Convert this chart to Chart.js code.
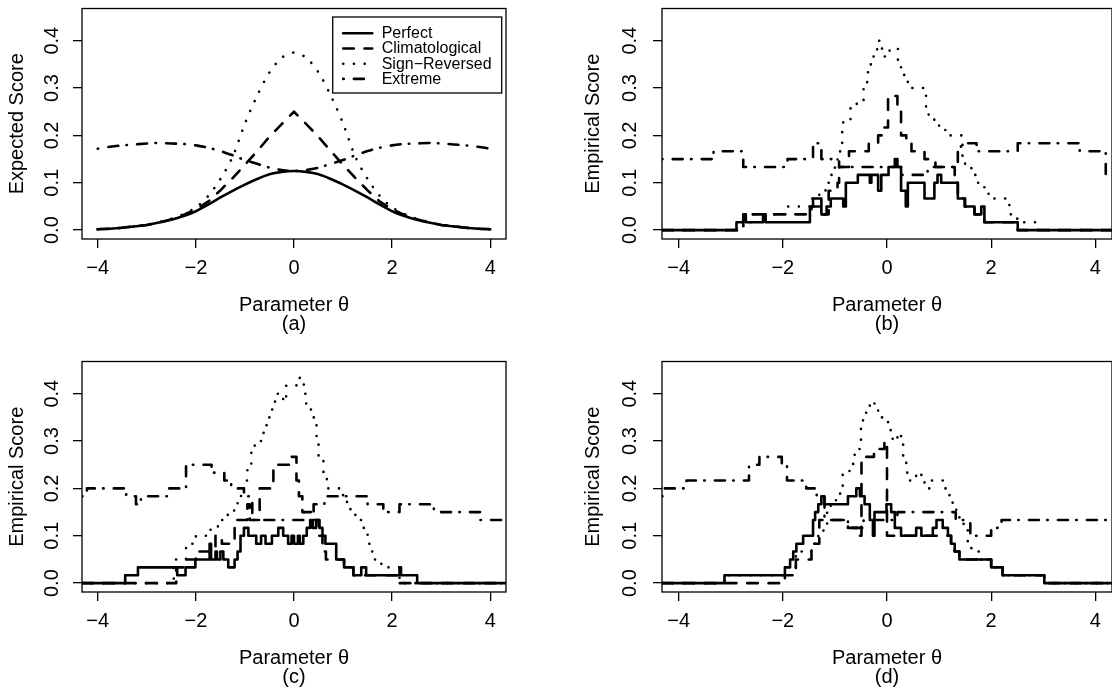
<!DOCTYPE html>
<html>
<head>
<meta charset="utf-8">
<script src="https://cdn.jsdelivr.net/npm/chart.js@4.4.1/dist/chart.umd.min.js"></script>
<style>
  html, body { margin: 0; padding: 0; background: #fff; width: 1112px; height: 689px; overflow: hidden; position: relative; }
  .panel { position: absolute; width: 574px; height: 353px; }
</style>
</head>
<body>
<div class="panel" style="left:0;top:0"><canvas id="panelA"></canvas></div>
<div class="panel" style="left:574px;top:0"><canvas id="panelB"></canvas></div>
<div class="panel" style="left:0;top:353px"><canvas id="panelC"></canvas></div>
<div class="panel" style="left:574px;top:353px"><canvas id="panelD"></canvas></div>
<script>
const seriesNames = ['Perfect', 'Climatological', 'Sign\u2212Reversed', 'Extreme'];
const xTicks = [-4, -2, 0, 2, 4];
const yTicks = [0, 0.1, 0.2, 0.3, 0.4];

// (a) expected score curves
const thetaA = [-4, -3.75, -3.5, -3.25, -3, -2.75, -2.5, -2.25, -2, -1.75, -1.5, -1.25, -1, -0.75, -0.5, -0.25, 0,
  0.25, 0.5, 0.75, 1, 1.25, 1.5, 1.75, 2, 2.25, 2.5, 2.75, 3, 3.25, 3.5, 3.75, 4];
const perfectA = [0.002, 0.003, 0.005, 0.008, 0.011, 0.016, 0.022, 0.030, 0.040, 0.054, 0.069, 0.083, 0.096, 0.108, 0.118, 0.123, 0.125,
  0.123, 0.118, 0.108, 0.096, 0.083, 0.069, 0.054, 0.040, 0.030, 0.022, 0.016, 0.011, 0.008, 0.005, 0.003, 0.002];
const climA = [0.002, 0.003, 0.005, 0.008, 0.011, 0.016, 0.023, 0.032, 0.044, 0.060, 0.084, 0.110, 0.138, 0.167, 0.197, 0.224, 0.250,
  0.224, 0.197, 0.167, 0.138, 0.110, 0.084, 0.060, 0.044, 0.032, 0.023, 0.016, 0.011, 0.008, 0.005, 0.003, 0.002];
const signA = [0.002, 0.003, 0.005, 0.008, 0.011, 0.017, 0.024, 0.034, 0.048, 0.072, 0.108, 0.155, 0.225, 0.284, 0.333, 0.364, 0.375,
  0.364, 0.333, 0.284, 0.225, 0.155, 0.108, 0.072, 0.048, 0.034, 0.024, 0.017, 0.011, 0.008, 0.005, 0.003, 0.002];
const extremeA = [0.172, 0.176, 0.179, 0.181, 0.183, 0.184, 0.183, 0.182, 0.179, 0.174, 0.167, 0.158, 0.148, 0.140, 0.132, 0.127, 0.125,
  0.127, 0.132, 0.140, 0.148, 0.158, 0.167, 0.174, 0.179, 0.182, 0.183, 0.184, 0.183, 0.181, 0.179, 0.176, 0.172];

// (b)-(d) empirical scores: [theta where step starts, count out of 60]
const perfB = [[-4.32, 0], [-2.89, 1], [-2.76, 2], [-2.71, 1], [-2.38, 2], [-2.33, 1], [-1.48, 3], [-1.42, 4], [-1.26, 2], [-1.16, 3],
  [-1.08, 4], [-0.84, 3], [-0.79, 6], [-0.56, 7], [-0.33, 6], [-0.30, 7], [-0.17, 5], [-0.11, 7], [0.03, 8], [0.15, 9], [0.20, 8],
  [0.27, 5], [0.36, 3], [0.40, 6], [0.72, 4], [0.91, 6], [0.97, 7], [1.04, 6], [1.36, 4], [1.49, 3], [1.68, 2], [1.81, 3], [1.87, 1],
  [2.51, 0], [4.32, 0]];
const climB = [[-4.32, 0], [-2.76, 2], [-1.45, 3], [-1.25, 2], [-1.12, 5], [-0.95, 6], [-0.92, 8], [-0.73, 10], [-0.35, 11], [-0.17, 12],
  [-0.07, 13], [0.02, 17], [0.20, 15], [0.27, 12], [0.37, 11], [0.47, 10], [0.72, 9], [0.93, 8], [1.30, 6], [1.36, 4], [1.50, 3],
  [1.68, 2], [1.87, 1], [2.51, 0], [4.32, 0]];
const signB = [[-4.32, 0], [-2.76, 1], [-2.60, 2], [-1.90, 3], [-1.45, 4], [-1.30, 5], [-1.18, 6], [-1.10, 7], [-1.00, 8], [-0.95, 9],
  [-0.90, 11], [-0.86, 13], [-0.84, 14], [-0.70, 16], [-0.45, 18], [-0.38, 20], [-0.33, 21], [-0.27, 22], [-0.19, 24], [-0.13, 23],
  [-0.05, 22], [0.05, 23], [0.21, 21], [0.27, 20], [0.33, 19], [0.40, 18], [0.75, 15], [0.80, 14], [1.00, 13], [1.12, 12], [1.45, 9],
  [1.50, 8], [1.62, 7], [1.75, 6], [1.87, 5], [1.95, 4], [2.35, 2], [2.50, 1], [2.90, 0], [4.32, 0]];
const extB = [[-4.32, 9], [-3.33, 10], [-2.76, 8], [-1.91, 9], [-1.42, 11], [-1.26, 9], [-0.92, 8], [0.27, 7], [0.78, 8], [1.36, 10],
  [1.42, 11], [1.72, 10], [2.51, 11], [3.70, 10], [4.20, 7], [4.32, 7]];

const perfC = [[-4.32, 0], [-3.44, 1], [-3.18, 2], [-2.38, 1], [-2.21, 2], [-2.01, 3], [-1.72, 5], [-1.69, 3], [-1.60, 4], [-1.57, 3],
  [-1.50, 4], [-1.44, 3], [-1.34, 2], [-1.21, 3], [-1.15, 4], [-1.09, 6], [-1.02, 7], [-0.93, 6], [-0.77, 5], [-0.67, 6], [-0.58, 5],
  [-0.45, 6], [-0.32, 7], [-0.22, 6], [-0.12, 5], [-0.05, 6], [0.00, 5], [0.08, 6], [0.12, 5], [0.19, 6], [0.26, 7], [0.33, 8],
  [0.38, 7], [0.45, 8], [0.52, 7], [0.58, 6], [0.64, 5], [0.86, 3], [1.02, 2], [1.21, 1], [1.37, 2], [1.47, 1], [2.15, 2], [2.18, 1],
  [2.51, 0], [4.32, 0]];
const climC = [[-4.32, 0], [-2.40, 2], [-2.24, 3], [-2.00, 4], [-1.60, 6], [-1.47, 5], [-1.21, 8], [-0.95, 10], [-0.90, 8], [-0.70, 12],
  [-0.42, 15], [-0.05, 16], [0.05, 13], [0.10, 11], [0.17, 9], [0.35, 8], [0.50, 6], [0.58, 4], [0.65, 3], [1.02, 2], [1.21, 1],
  [2.15, 0], [4.32, 0]];
const signC = [[-4.32, 0], [-2.45, 3], [-2.20, 5], [-2.00, 6], [-1.70, 7], [-1.55, 8], [-1.35, 9], [-1.22, 10], [-1.15, 11], [-1.08, 12],
  [-1.02, 13], [-0.95, 15], [-0.87, 17], [-0.80, 18], [-0.62, 20], [-0.55, 21], [-0.48, 22], [-0.40, 23], [-0.35, 24], [-0.22, 23],
  [-0.16, 25], [0.05, 26], [0.20, 24], [0.25, 22], [0.35, 21], [0.42, 20], [0.46, 18], [0.50, 16], [0.60, 14], [0.67, 13], [0.70, 12],
  [1.00, 11], [1.08, 10], [1.15, 9], [1.25, 8], [1.42, 7], [1.50, 5], [1.55, 4], [1.62, 3], [1.78, 2], [2.15, 0], [4.32, 0]];
const extC = [[-4.32, 11], [-4.22, 12], [-3.42, 11], [-3.22, 10], [-3.12, 11], [-2.55, 12], [-2.20, 15], [-1.68, 14], [-1.42, 13],
  [-1.28, 12], [-1.02, 11], [-0.85, 8], [0.20, 9], [0.40, 10], [0.62, 11], [1.50, 10], [1.82, 9], [2.15, 10], [2.85, 9], [3.80, 8],
  [4.32, 8]];

const perfD = [[-4.32, 0], [-3.12, 1], [-1.96, 2], [-1.86, 3], [-1.80, 4], [-1.74, 5], [-1.61, 6], [-1.42, 8], [-1.38, 9], [-1.32, 10],
  [-1.26, 11], [-1.20, 10], [-0.75, 11], [-0.59, 12], [-0.52, 11], [-0.43, 10], [-0.33, 8], [-0.27, 6], [-0.24, 9], [-0.01, 10],
  [0.08, 9], [0.15, 7], [0.27, 6], [0.56, 7], [0.66, 6], [0.88, 7], [0.95, 8], [1.07, 7], [1.17, 6], [1.23, 5], [1.30, 4], [1.39, 3],
  [2.00, 2], [2.22, 1], [3.02, 0], [4.32, 0]];
const climD = [[-4.32, 0], [-1.96, 1], [-1.75, 3], [-1.45, 5], [-1.30, 8], [-0.75, 7], [-0.52, 6], [-0.49, 16], [-0.25, 17], [-0.05, 18],
  [0.00, 6], [1.17, 6], [1.23, 5], [1.30, 4], [1.39, 3], [2.00, 2], [2.22, 1], [3.02, 0], [4.32, 0]];
const signD = [[-4.32, 0], [-3.12, 1], [-1.96, 2], [-1.75, 4], [-1.45, 5], [-1.32, 6], [-1.22, 7], [-1.15, 9], [-1.08, 10], [-0.98, 11],
  [-0.90, 12], [-0.85, 14], [-0.72, 15], [-0.65, 16], [-0.62, 17], [-0.52, 18], [-0.50, 20], [-0.46, 21], [-0.40, 22], [-0.33, 23],
  [-0.24, 22], [-0.17, 21], [0.02, 20], [0.07, 19], [0.11, 18], [0.20, 19], [0.27, 18], [0.31, 16], [0.37, 14], [0.43, 13], [0.56, 14],
  [0.66, 13], [0.72, 12], [0.82, 13], [1.12, 12], [1.20, 11], [1.26, 10], [1.33, 9], [1.39, 8], [1.47, 7], [1.55, 5], [1.62, 4],
  [1.80, 3], [2.00, 2], [2.22, 1], [3.02, 0], [4.32, 0]];
const extD = [[-4.32, 11], [-4.29, 12], [-3.85, 13], [-2.65, 15], [-2.45, 16], [-2.02, 15], [-1.92, 13], [-1.55, 12], [-1.35, 11],
  [-1.20, 8], [-0.75, 7], [-0.45, 8], [0.20, 9], [1.32, 8], [1.60, 6], [2.00, 7], [2.20, 8], [4.32, 8]];

const FONT = "'Liberation Sans', Arial, Helvetica, sans-serif";
Chart.defaults.font.family = FONT;
Chart.defaults.font.size = 20;
Chart.defaults.color = '#000';

const lineStyles = [
  { dash: [] },
  { dash: [10.6, 10.7] },
  { dash: [0.1, 10.6] },
  { dash: [0.5, 10.2, 10, 8.3] }
];

// left column panels are a little narrower than the right column ones
const leftGeom = { axisWidth: 82, padRight: 68, tickPad: 7, titlePad: 5.5 };
const rightGeom = { axisWidth: 88, padRight: 36, tickPad: 9, titlePad: 7.5 };

function curveData(ys) {
  return ys.map((y, i) => ({ x: thetaA[i], y }));
}

function stepData(pairs) {
  return pairs.map(([x, n]) => ({ x, y: n / 60 }));
}

function makeDatasets(series, stepped) {
  return series.map((data, i) => ({
    label: seriesNames[i],
    data,
    borderColor: '#000',
    borderWidth: 2.6,
    borderDash: lineStyles[i].dash,
    borderCapStyle: 'round',
    borderJoinStyle: 'round',
    pointRadius: 0,
    fill: false,
    stepped,
    tension: stepped ? 0 : (i === 1 ? 0 : 0.3),
    order: -i
  }));
}

const panelBox = {
  id: 'panelBox',
  afterDraw(chart) {
    const { ctx, chartArea: a } = chart;
    ctx.save();
    ctx.strokeStyle = '#000';
    ctx.lineWidth = 1.3;
    ctx.strokeRect(a.left, a.top, a.right - a.left, a.bottom - a.top);
    ctx.restore();
  }
};

const lineLegend = {
  id: 'lineLegend',
  afterDraw(chart, args, opts) {
    if (!opts.show) return;
    const { ctx, chartArea: a } = chart;
    const right = a.right - 4.3;
    const top = a.top + 8.5;
    const left = right - 169;
    ctx.save();
    ctx.strokeStyle = '#000';
    ctx.lineWidth = 1.3;
    ctx.strokeRect(left, top, right - left, 76);
    ctx.font = '16px ' + FONT;
    ctx.fillStyle = '#000';
    ctx.textBaseline = 'middle';
    seriesNames.forEach((name, i) => {
      const y = top + 16.3 + i * 15.2;
      ctx.lineWidth = 2.6;
      ctx.lineCap = 'round';
      ctx.setLineDash(lineStyles[i].dash);
      ctx.beginPath();
      ctx.moveTo(left + 10.5, y);
      ctx.lineTo(left + 39.5, y);
      ctx.stroke();
      ctx.fillText(name, left + 49, y + 0.5);
    });
    ctx.restore();
  }
};

function fmtX(v) {
  return v < 0 ? '\u2212' + Math.abs(v) : String(v);
}

function makeChart(id, datasets, yTitle, tag, geom, showLegend) {
  const axisGrid = { drawOnChartArea: false, drawTicks: true, tickLength: 9, color: '#000', lineWidth: 1.3 };
  return new Chart(document.getElementById(id), {
    type: 'line',
    data: { datasets },
    plugins: [panelBox, lineLegend],
    options: {
      responsive: true,
      maintainAspectRatio: false,
      animation: false,
      events: [],
      layout: { padding: { top: 8.5, right: geom.padRight, left: 0, bottom: 0 } },
      plugins: {
        legend: { display: false },
        tooltip: { enabled: false },
        lineLegend: { show: showLegend }
      },
      scales: {
        x: {
          type: 'linear',
          min: -4.32,
          max: 4.32,
          afterBuildTicks: (s) => { s.ticks = xTicks.map((v) => ({ value: v })); },
          afterFit: (s) => { s.height = 114; s.paddingLeft = 0; s.paddingRight = 0; },
          grid: axisGrid,
          border: { display: false },
          ticks: { autoSkip: false, maxRotation: 0, minRotation: 0, padding: 8, callback: (v) => fmtX(v) },
          title: {
            display: true,
            text: ['Parameter \u03b8', tag],
            font: { size: 20, lineHeight: 0.95 },
            padding: { top: 0, bottom: 19.5 }
          }
        },
        y: {
          type: 'linear',
          min: -0.0187,
          max: 0.468,
          afterBuildTicks: (s) => { s.ticks = yTicks.map((v) => ({ value: v })); },
          afterFit: (s) => { s.width = geom.axisWidth; s.paddingTop = 0; s.paddingBottom = 0; },
          grid: axisGrid,
          border: { display: false },
          ticks: { autoSkip: false, minRotation: 90, maxRotation: 90, crossAlign: 'center', padding: geom.tickPad, callback: (v) => v.toFixed(1) },
          title: { display: true, text: yTitle, font: { size: 20 }, padding: { top: geom.titlePad, bottom: 0 } }
        }
      }
    }
  });
}

makeChart('panelA', makeDatasets([perfectA, climA, signA, extremeA].map(curveData), false), 'Expected Score', '(a)', leftGeom, true);
makeChart('panelB', makeDatasets([perfB, climB, signB, extB].map(stepData), true), 'Empirical Score', '(b)', rightGeom, false);
makeChart('panelC', makeDatasets([perfC, climC, signC, extC].map(stepData), true), 'Empirical Score', '(c)', leftGeom, false);
makeChart('panelD', makeDatasets([perfD, climD, signD, extD].map(stepData), true), 'Empirical Score', '(d)', rightGeom, false);
</script>
</body>
</html>
